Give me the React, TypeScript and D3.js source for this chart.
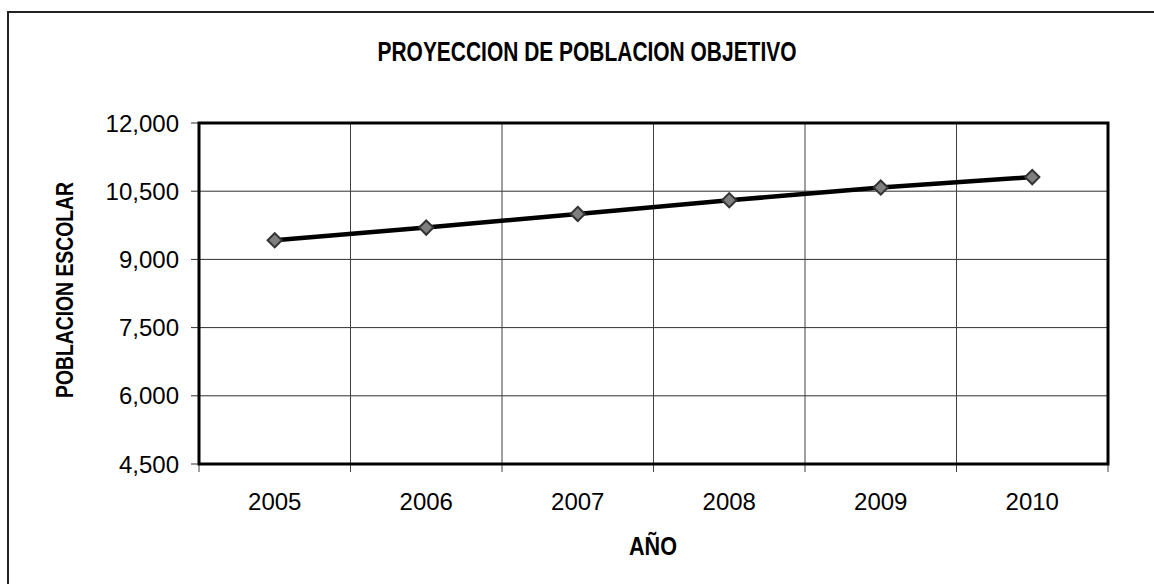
import React from 'react'
import * as d3 from 'd3'

// datos
const years = ['2005', '2006', '2007', '2008', '2009', '2010']
const poblacion = [9420, 9700, 10000, 10300, 10580, 10810]
const yTicks = [4500, 6000, 7500, 9000, 10500, 12000]

const title = 'PROYECCION DE POBLACION OBJETIVO'
const yTitle = 'POBLACION ESCOLAR'
const xTitle = 'AÑO'

const W = 1154
const H = 584
const margin = { top: 123, left: 199, right: 46, bottom: 120 }

const narrow = "'Liberation Sans Narrow', 'Arial Narrow', 'Liberation Sans', Arial, sans-serif"
const sans = "'Liberation Sans', Arial, sans-serif"

export default function App() {
	const x = d3.scaleBand<string>()
		.domain(years)
		.range([margin.left, W - margin.right])
		.padding(0)

	const y = d3.scaleLinear()
		.domain([4500, 12000])
		.range([H - margin.bottom, margin.top])

	const line = d3.line<number>()
		.x((d, i) => x(years[i])! + x.bandwidth() / 2)
		.y(d => y(d))

	const bounds = years.map(yr => x(yr)!).concat([W - margin.right])
	const bottom = H - margin.bottom
	const left = margin.left
	const right = W - margin.right
	const fmt = d3.format(',')

	const diamond = d3.symbol().type(d3.symbolDiamond2).size(130)()

	return (
		<svg width={W} height={H} style={{ position: 'absolute', left: 0, top: 0, background: '#fff' }}>
			{/* marco exterior */}
			<rect x={8} y={12} width={W + 20} height={H + 20} fill="none" stroke="#222" strokeWidth={2} />

			<text x={587} y={61} textAnchor="middle" fontFamily={narrow} fontWeight="bold" fontSize={27}
				textLength={419} lengthAdjust="spacingAndGlyphs">{title}</text>

			{/* rejilla */}
			{yTicks.map(t => (
				<line key={'h' + t} x1={left - 8} x2={right} y1={y(t)} y2={y(t)} stroke="#303030" strokeWidth={1} />
			))}
			{bounds.map((b, i) => (
				<line key={'v' + i} x1={b} x2={b} y1={margin.top} y2={bottom + 8} stroke="#404040" strokeWidth={1} />
			))}

			<rect x={left} y={margin.top} width={right - left} height={bottom - margin.top}
				fill="none" stroke="#000" strokeWidth={3} />

			{yTicks.map(t => (
				<text key={'yl' + t} x={179} y={y(t)} dy="0.36em" textAnchor="end" fontFamily={sans} fontSize={24}>{fmt(t)}</text>
			))}
			{years.map(yr => (
				<text key={'xl' + yr} x={x(yr)! + x.bandwidth() / 2} y={510} textAnchor="middle" fontFamily={sans} fontSize={24}>{yr}</text>
			))}

			<path d={line(poblacion) || ''} fill="none" stroke="#000" strokeWidth={4.5} />
			{poblacion.map((v, i) => (
				<path key={'m' + i} d={diamond || ''}
					transform={`translate(${x(years[i])! + x.bandwidth() / 2},${y(v)})`}
					fill="#7f7f7f" stroke="#333" strokeWidth={2} />
			))}

			<text x={653} y={555} textAnchor="middle" fontFamily={narrow} fontWeight="bold" fontSize={25}
				textLength={48} lengthAdjust="spacingAndGlyphs">{xTitle}</text>

			<text transform="translate(73,290) rotate(-90)" textAnchor="middle" fontFamily={narrow} fontWeight="bold" fontSize={23}
				textLength={216} lengthAdjust="spacingAndGlyphs">{yTitle}</text>
		</svg>
	)
}
